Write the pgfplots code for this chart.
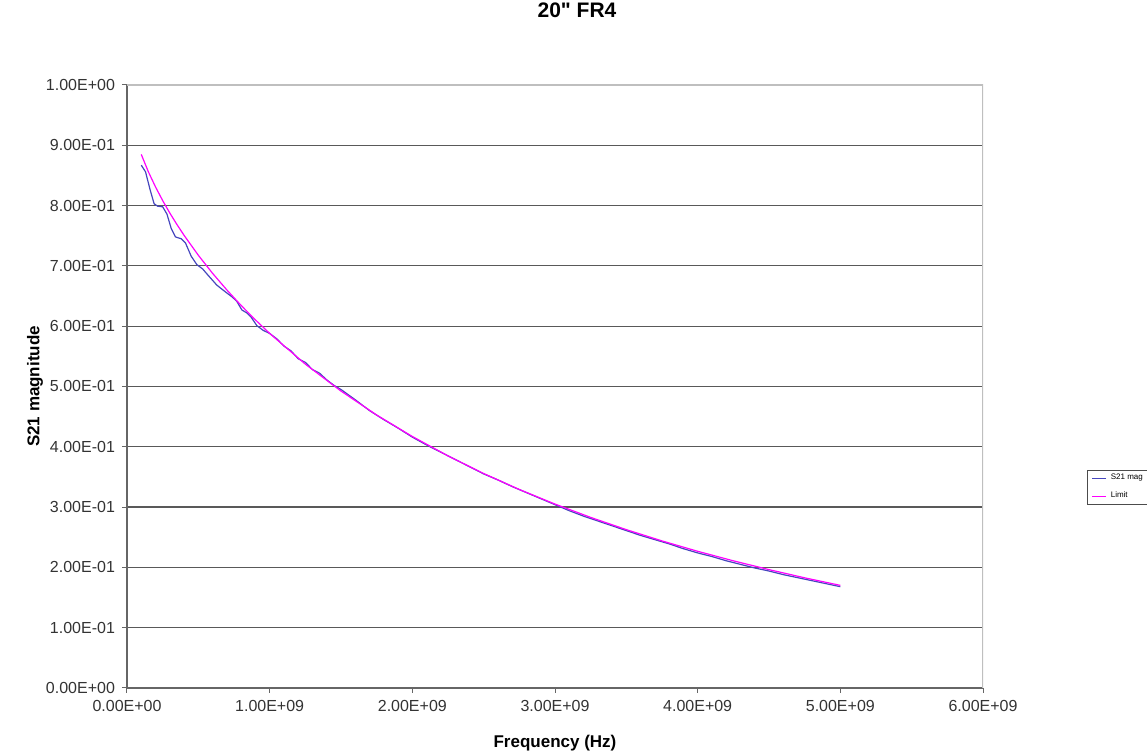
\documentclass[border=0pt]{standalone}
\usepackage{pgfplots}
\pgfplotsset{compat=1.18}
\usepackage{fontspec}
\setmainfont{Liberation Sans}
\newfontfamily\rawfont{Liberation Sans}
\definecolor{s21}{RGB}{70,70,190}
\definecolor{lim}{RGB}{255,0,255}
\pgfplotstableread{
f s
0.100e9 0.867
0.130e9 0.856
0.160e9 0.828
0.190e9 0.803
0.215e9 0.799
0.250e9 0.798
0.280e9 0.786
0.310e9 0.762
0.340e9 0.748
0.380e9 0.745
0.410e9 0.738
0.450e9 0.716
0.490e9 0.702
0.530e9 0.695
0.570e9 0.684
0.630e9 0.668
0.700e9 0.655
0.740e9 0.648
0.770e9 0.641
0.805e9 0.627
0.840e9 0.622
0.870e9 0.615
0.910e9 0.601
0.955e9 0.593
1.000e9 0.588
1.050e9 0.579
1.100e9 0.567
1.150e9 0.559
1.200e9 0.546
1.250e9 0.540
1.300e9 0.528
1.350e9 0.522
1.400e9 0.511
1.450e9 0.502
1.500e9 0.495
1.600e9 0.478
1.700e9 0.460
1.800e9 0.445
1.900e9 0.431
2.000e9 0.416
2.100e9 0.403
2.200e9 0.391
2.300e9 0.379
2.400e9 0.367
2.500e9 0.355
2.600e9 0.345
2.700e9 0.334
2.800e9 0.324
2.900e9 0.314
3.000e9 0.304
3.100e9 0.294
3.200e9 0.285
3.300e9 0.277
3.400e9 0.269
3.500e9 0.261
3.600e9 0.253
3.700e9 0.246
3.800e9 0.239
3.900e9 0.231
4.000e9 0.224
4.100e9 0.218
4.200e9 0.211
4.300e9 0.205
4.400e9 0.199
4.500e9 0.194
4.600e9 0.188
4.700e9 0.183
4.800e9 0.178
4.900e9 0.173
5.000e9 0.168
}\seriesSmag
\pgfplotstableread{
f l
0.10e9 0.8849
0.15e9 0.8559
0.20e9 0.8309
0.25e9 0.8083
0.30e9 0.7877
0.35e9 0.7686
0.40e9 0.7507
0.50e9 0.7176
0.60e9 0.6876
0.70e9 0.6601
0.80e9 0.6344
0.90e9 0.6105
1.00e9 0.5880
1.25e9 0.5371
1.50e9 0.4924
1.75e9 0.4527
2.00e9 0.4171
2.25e9 0.3849
2.50e9 0.3557
2.75e9 0.3292
3.00e9 0.3050
3.25e9 0.2829
3.50e9 0.2626
3.75e9 0.2439
4.00e9 0.2267
4.25e9 0.2109
4.50e9 0.1963
4.75e9 0.1827
5.00e9 0.1702
}\seriesLimit
\begin{document}
\begin{tikzpicture}[x=1pt,y=1pt]
\useasboundingbox (0,0) rectangle (573.5,377);
\begin{axis}[
  at={(63.5pt,33pt)}, anchor=south west,
  scale only axis, width=428pt, height=301.5pt,
  xmin=0, xmax=6e9, ymin=0, ymax=1,
  scaled x ticks=false, scaled y ticks=false,
  xtick={0,1e9,2e9,3e9,4e9,5e9,6e9},
  xticklabels={0.00E+00,1.00E+09,2.00E+09,3.00E+09,4.00E+09,5.00E+09,6.00E+09},
  ytick={0,0.1,0.2,0.3,0.4,0.5,0.6,0.7,0.8,0.9},
  yticklabels={0.00E+00,1.00E-01,2.00E-01,3.00E-01,4.00E-01,5.00E-01,6.00E-01,7.00E-01,8.00E-01,9.00E-01},
  extra y ticks={1}, extra y tick labels={1.00E+00},
  extra y tick style={grid=none},
  ymajorgrids,
  major grid style={black!65, line width=0.6pt},
  axis x line*=bottom, axis y line*=left,
  axis line style={black!60, line width=0.6pt},
  tick align=outside, major tick length=2.5pt,
  tick style={black!60, line width=0.5pt},
  ticklabel style={font=\fontsize{8}{9}\selectfont, text=black!80},
  title={{\rawfont\bfseries 20" FR4}},
  title style={at={(axis description cs:0.5257,1.1045)}, anchor=center, font=\fontsize{10.5}{12}\selectfont},
  xlabel={\textbf{Frequency (Hz)}},
  xlabel style={at={(axis description cs:0.5,-0.0912)}, anchor=center, font=\fontsize{8.5}{10}\selectfont},
  ylabel={\textbf{S21 magnitude}},
  ylabel style={at={(axis description cs:-0.1075,0.5)}, anchor=center, font=\fontsize{8.5}{10}\selectfont},
  legend style={at={(axis description cs:1.1215,0.3615)}, anchor=north west,
    draw=black!70, line width=0.4pt, font=\fontsize{4}{5}\selectfont,
    row sep=0.5pt, inner ysep=0pt, inner xsep=2pt},
  legend cell align=left,
  legend image code/.code={\draw[#1, line width=0.7pt] (0pt,0pt) -- (7pt,0pt);},
]
\draw[black!25, line width=0.6pt] (rel axis cs:0,1) -- (rel axis cs:1,1) -- (rel axis cs:1,0);
\addplot[s21, line width=0.6pt] table[x=f, y=s] {\seriesSmag};
\addlegendentry{S21 mag}
\addplot[lim, line width=0.6pt] table[x=f, y=l] {\seriesLimit};
\addlegendentry{Limit}
\end{axis}
\end{tikzpicture}
\end{document}
